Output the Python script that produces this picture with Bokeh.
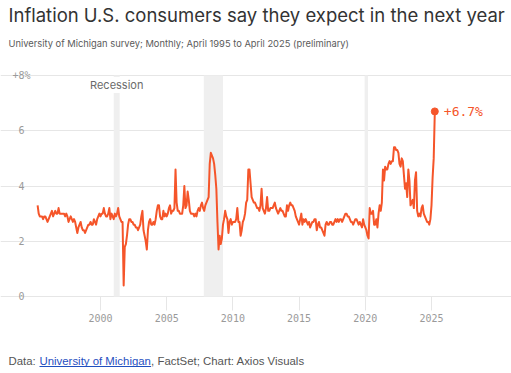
from bokeh.plotting import figure
from bokeh.models import Range1d, FixedTicker, Label, Arrow
from bokeh.embed import file_html
from bokeh.resources import INLINE

# ---------------- data ----------------
START_YEAR = 1995
START_MONTH = 4  # April 1995, monthly to April 2025

expect_pct = [
    # 1995 (Apr-Dec)
    3.3, 3.0, 2.9, 2.9, 2.9, 2.8, 2.9, 2.9, 2.8,
    # 1996
    2.7, 2.8, 2.9, 3.0, 3.1, 2.9, 3.0, 3.1, 3.0, 3.0, 3.2, 3.0,
    # 1997
    3.0, 3.0, 3.0, 3.0, 2.9, 3.0, 2.9, 2.7, 2.8, 2.9, 2.8, 2.7,
    # 1998
    2.8, 2.7, 2.5, 2.3, 2.5, 2.6, 2.7, 2.5, 2.4, 2.4, 2.3, 2.4,
    # 1999
    2.5, 2.6, 2.6, 2.7, 2.6, 2.6, 2.8, 2.7, 2.6, 2.8, 2.9, 3.0,
    # 2000
    2.9, 3.0, 3.0, 3.2, 3.0, 2.9, 2.9, 3.0, 3.2, 2.8, 3.0, 2.9,
    # 2001
    2.8, 3.0, 2.9, 3.0, 3.2, 2.9, 2.8, 2.7, 2.7, 0.4, 1.8, 1.9,
    # 2002
    2.2, 2.6, 2.8, 2.8, 2.7, 2.7, 2.6, 2.6, 2.5, 2.5, 2.4, 2.5,
    # 2003
    2.6, 2.9, 3.1, 2.4, 2.2, 2.0, 1.7, 2.4, 2.7, 2.8, 2.6, 2.6,
    # 2004
    2.7, 2.6, 2.8, 3.1, 3.3, 3.3, 2.9, 2.8, 2.8, 3.1, 2.9, 3.0,
    # 2005
    2.9, 3.0, 3.2, 3.3, 3.0, 3.1, 3.1, 3.2, 4.6, 3.4, 3.1, 3.1,
    # 2006
    3.0, 3.0, 3.0, 3.3, 4.0, 3.2, 3.3, 3.8, 3.5, 3.1, 3.0, 3.0,
    # 2007
    3.0, 2.9, 3.0, 2.9, 3.1, 3.2, 3.1, 3.3, 3.4, 3.2, 3.1, 3.3,
    # 2008
    3.4, 3.5, 3.6, 4.8, 5.2, 5.1, 5.0, 4.8, 4.4, 3.9, 2.7, 1.7,
    # 2009
    2.2, 1.9, 2.1, 2.6, 2.8, 3.1, 2.9, 2.8, 2.3, 2.7, 2.8, 2.6,
    # 2010
    2.7, 2.7, 2.7, 2.8, 3.2, 2.7, 2.7, 2.2, 2.4, 2.7, 2.8, 3.0,
    # 2011
    3.4, 3.5, 4.6, 4.6, 4.1, 3.6, 3.5, 3.4, 3.4, 3.3, 3.2, 3.2,
    # 2012
    3.1, 3.3, 3.9, 3.2, 3.1, 3.0, 3.2, 3.6, 3.1, 3.1, 3.2, 3.2,
    # 2013
    3.2, 3.3, 3.4, 3.2, 3.1, 3.0, 3.1, 3.2, 3.1, 3.1, 3.0, 2.9,
    # 2014
    2.9, 3.3, 3.1, 3.3, 3.4, 3.3, 3.3, 3.2, 3.1, 2.9, 2.8, 2.7,
    # 2015
    2.6, 2.8, 3.0, 2.6, 2.8, 2.7, 2.8, 2.7, 2.6, 2.7, 2.5, 2.6,
    # 2016
    2.7, 2.7, 2.8, 2.8, 2.4, 2.6, 2.7, 2.5, 2.5, 2.4, 2.3, 2.2,
    # 2017
    2.6, 2.7, 2.6, 2.6, 2.7, 2.7, 2.6, 2.6, 2.7, 2.8, 2.7, 2.8,
    # 2018
    2.7, 2.8, 2.8, 2.7, 2.8, 2.9, 3.0, 3.0, 2.9, 2.9, 2.8, 2.7,
    # 2019
    2.7, 2.6, 2.7, 2.8, 2.8, 2.7, 2.6, 2.7, 2.6, 2.5, 2.8, 2.6,
    # 2020
    2.5, 2.4, 2.2, 2.1, 3.2, 3.0, 3.0, 3.1, 2.6, 2.6, 2.8, 2.5,
    # 2021
    3.0, 3.3, 3.1, 3.4, 4.6, 4.2, 4.7, 4.6, 4.6, 4.8, 4.9, 4.8,
    # 2022
    4.9, 4.9, 5.4, 5.4, 5.3, 5.3, 5.2, 4.8, 4.7, 5.0, 4.9, 4.4,
    # 2023
    3.9, 4.1, 3.6, 4.6, 4.2, 3.3, 3.4, 3.5, 3.2, 4.2, 4.5, 3.1,
    # 2024
    2.9, 3.0, 2.9, 3.2, 3.3, 3.0, 2.9, 2.8, 2.7, 2.7, 2.6, 2.8,
    # 2025 (Jan-Apr, April preliminary)
    3.3, 4.3, 5.0, 6.7,
]

END_LABEL = "+6.7%"

RECESSION_START = [2001.0, 2007.8, 2019.95]
RECESSION_END = [2001.45, 2009.25, 2020.2]
RECESSION_LABEL = "Recession"

X_TICKS = [2000, 2005, 2010, 2015, 2020, 2025]
X_TICK_LABELS = ["2000", "2005", "2010", "2015", "2020", "2025"]
Y_TICKS = [0, 2, 4, 6, 8]
Y_TICK_LABELS = ["0", "2", "4", "6", "+8%"]

TITLE = "Inflation U.S. consumers say they expect in the next year"
SUBTITLE = "University of Michigan survey; Monthly; April 1995 to April 2025 (preliminary)"
FOOT_1 = "Data: "
FOOT_LINK = "University of Michigan"
FOOT_2 = ", FactSet; Chart: Axios Visuals"

# ---------------- style / layout ----------------
LINE = "#f5552a"
GRID = "#e6e6e6"
TICK_TXT = "#9a9a9a"
BAND = "#efefef"
LINK = "#1f4fbf"
MONO = "DejaVu Sans Mono"
SANS = "Inter"
FOOT_FONT = "Liberation Sans"

W, H = 511, 373
# pixel layout of the chart area
PX_2000, PX_PER_YEAR = 100.0, 13.24      # x pixel of Jan 2000, pixels per year
PY_ZERO, PX_PER_UNIT = 296.0, 27.625     # y pixel of 0 %, pixels per percentage point
AREA_LEFT_PX, AREA_RIGHT_PX = 26.0, 440.0


def xd(px):  # pixel column -> data x
    return 2000 + (px - PX_2000) / PX_PER_YEAR


def yd(py):  # pixel row (from top) -> data y
    return (PY_ZERO - py) / PX_PER_UNIT


x_vals = [START_YEAR + (START_MONTH - 1 + i) / 12 for i in range(len(expect_pct))]

p = figure(width=W, height=H, output_backend="svg", toolbar_location=None,
           x_range=Range1d(xd(0), xd(W)), y_range=Range1d(yd(H), yd(0)),
           title=None, min_border=0)
p.outline_line_color = None
p.background_fill_color = "white"
p.border_fill_color = "white"

p.xgrid.visible = False
p.ygrid.ticker = FixedTicker(ticks=Y_TICKS)
p.ygrid.bounds = (xd(AREA_LEFT_PX), xd(AREA_RIGHT_PX))
p.ygrid.grid_line_color = GRID
p.ygrid.grid_line_width = 1

ax = p.xaxis[0]
ax.fixed_location = 0
ax.ticker = FixedTicker(ticks=X_TICKS)
ax.major_label_overrides = {t: l for t, l in zip(X_TICKS, X_TICK_LABELS)}
ax.axis_line_color = None
ax.major_tick_line_color = GRID
ax.major_tick_in = 0
ax.major_tick_out = 14
ax.minor_tick_line_color = None
ax.major_label_standoff = 3
ax.major_label_text_font = MONO
ax.major_label_text_font_size = "10px"
ax.major_label_text_color = TICK_TXT

ay = p.yaxis[0]
ay.fixed_location = xd(AREA_LEFT_PX)
ay.ticker = FixedTicker(ticks=Y_TICKS)
ay.major_label_overrides = {t: (l if l.endswith("%") else l + "\u00a0")
                            for t, l in zip(Y_TICKS, Y_TICK_LABELS)}
ay.axis_line_color = None
ay.major_tick_line_color = None
ay.major_tick_in = 0
ay.major_tick_out = 0
ay.minor_tick_line_color = None
ay.major_label_standoff = -4
ay.major_label_text_font = MONO
ay.major_label_text_font_size = "10px"
ay.major_label_text_color = TICK_TXT

# recession bands
p.quad(left=RECESSION_START, right=RECESSION_END, bottom=Y_TICKS[0], top=Y_TICKS[-1],
       fill_color=BAND, line_color=None)

# series
p.line(x_vals, expect_pct, line_color=LINE, line_width=2, line_join="round")
p.scatter([x_vals[-1]], [expect_pct[-1]], size=7, fill_color=LINE, line_color=LINE)
p.add_layout(Label(x=x_vals[-1], y=expect_pct[-1], x_offset=9, text=END_LABEL,
                   text_font=MONO, text_font_size="13px", text_color=LINE,
                   text_baseline="middle", text_align="left"))

# recession label
p.add_layout(Label(x=(RECESSION_START[0] + RECESSION_END[0]) / 2, y=Y_TICKS[-1], y_offset=-9.5,
                   text=RECESSION_LABEL, text_font=SANS, text_font_size="11px",
                   text_color="#6b6b6b", text_align="center", text_baseline="middle",
                   background_fill_color="white", padding=1))

# titles
p.add_layout(Label(x=xd(8), y=yd(14.5), text=TITLE,
                   text_font=SANS, text_font_size="18.5px", text_color="#333333",
                   text_baseline="alphabetic"))
p.add_layout(Label(x=xd(8), y=yd(42.5), text=SUBTITLE,
                   text_font=SANS, text_font_size="9.35px", text_color="#5a5a5a",
                   text_baseline="alphabetic"))

# footer
FOOT_Y = yd(360.0)
p.add_layout(Label(x=xd(8), y=FOOT_Y, text=FOOT_1,
                   text_font=FOOT_FONT, text_font_size="11.4px", text_color="#555555",
                   text_baseline="alphabetic"))
p.add_layout(Label(x=xd(39.0), y=FOOT_Y, text=FOOT_LINK,
                   text_font=FOOT_FONT, text_font_size="11.4px", text_color=LINK,
                   text_baseline="alphabetic"))
p.add_layout(Label(x=xd(150.6), y=FOOT_Y, text=FOOT_2,
                   text_font=FOOT_FONT, text_font_size="11.4px", text_color="#555555",
                   text_baseline="alphabetic"))
p.add_layout(Arrow(end=None, x_start=xd(39.0), y_start=yd(366), x_end=xd(150.6), y_end=yd(366),
                   line_color=LINK, line_width=1))

open("out.html", "w").write(file_html(p, INLINE))
